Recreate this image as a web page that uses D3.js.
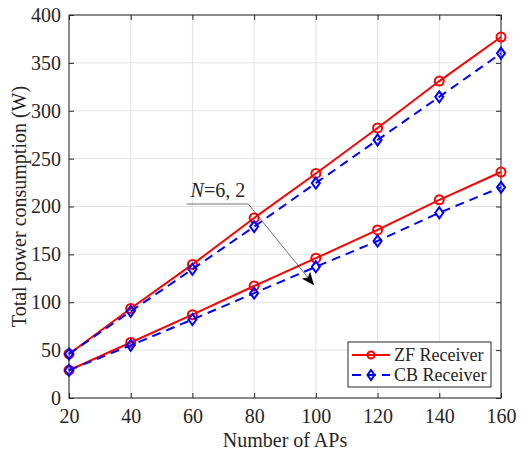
<!DOCTYPE html>
<html>
<head>
<meta charset="utf-8">
<script src="https://cdn.jsdelivr.net/npm/d3@7"></script>
<style>
  body { margin: 0; background: #fff; }
  text { font-family: "Liberation Serif", "Times New Roman", serif; fill: #262626; }
</style>
</head>
<body>
<div class="chart"></div>
<script>
const numAPs = [20, 40, 60, 80, 100, 120, 140, 160];
// N = 6
const zfN6 = [46, 93.5, 139.5, 188, 234.5, 282, 331, 377];
const cbN6 = [46, 90.5, 134.5, 179, 224.5, 269.5, 314.5, 360];
// N = 2
const zfN2 = [29, 58, 87, 117, 146, 175.5, 207, 236];
const cbN2 = [29, 55, 82, 109.5, 137, 164, 193.5, 220];
const xTicks = [20, 40, 60, 80, 100, 120, 140, 160];
const yTicks = [0, 50, 100, 150, 200, 250, 300, 350, 400];

const W = 528, H = 452;
const margin = {top: 15, right: 27, bottom: 54, left: 69},
width = W - margin.left - margin.right,
height = H - margin.top - margin.bottom;

const svg = d3.select(".chart").append("svg")
    .attr("width", W)
    .attr("height", H)
  .append("g")
    .attr("transform", "translate(" + margin.left + "," + margin.top + ")");

const x = d3.scaleLinear().domain([20, 160]).range([0, width]);
const y = d3.scaleLinear().domain([0, 400]).range([height, 0]);

// grid
svg.append("g").selectAll("line.gx")
  .data(xTicks).enter().append("line")
  .attr("x1", d => x(d)).attr("x2", d => x(d))
  .attr("y1", 0).attr("y2", height)
  .attr("stroke", "#e3e3e3").attr("stroke-width", 1);
svg.append("g").selectAll("line.gy")
  .data(yTicks).enter().append("line")
  .attr("y1", d => y(d)).attr("y2", d => y(d))
  .attr("x1", 0).attr("x2", width)
  .attr("stroke", "#e3e3e3").attr("stroke-width", 1);

// axes (ticks inward, box on)
function styleAxis(g) {
  g.select(".domain").remove();
  g.selectAll(".tick line").attr("stroke", "#262626");
  g.selectAll(".tick text")
    .style("font-family", '"Liberation Serif", "Times New Roman", serif')
    .style("font-size", "20px").attr("fill", "#262626");
}
svg.append("g").attr("transform", "translate(0," + height + ")")
  .call(d3.axisBottom(x).tickValues(xTicks).tickSize(-5).tickPadding(11).tickFormat(d3.format("d")))
  .call(styleAxis);
svg.append("g")
  .call(d3.axisTop(x).tickValues(xTicks).tickSize(-5).tickFormat(""))
  .call(styleAxis);
svg.append("g")
  .call(d3.axisLeft(y).tickValues(yTicks).tickSize(-5).tickPadding(8).tickFormat(d3.format("d")))
  .call(styleAxis);
svg.append("g").attr("transform", "translate(" + width + ",0)")
  .call(d3.axisRight(y).tickValues(yTicks).tickSize(-5).tickFormat(""))
  .call(styleAxis);
svg.append("rect")
  .attr("width", width).attr("height", height)
  .attr("fill", "none").attr("stroke", "#262626").attr("stroke-width", 1);

// series
const line = d3.line().x((d, i) => x(numAPs[i])).y(d => y(d));
const diamond = "M0,-5.5L4,0L0,5.5L-4,0Z";

function drawSeries(vals, color, dashed, marker) {
  svg.append("path").datum(vals)
    .attr("d", line)
    .attr("fill", "none")
    .attr("stroke", color)
    .attr("stroke-width", 2)
    .attr("stroke-dasharray", dashed ? "9,6" : null);
  const pts = svg.append("g").selectAll("g")
    .data(vals).enter().append("g")
    .attr("transform", (d, i) => "translate(" + x(numAPs[i]) + "," + y(d) + ")");
  if (marker == "circle") {
    pts.append("circle").attr("r", 4.5)
      .attr("fill", "none").attr("stroke", color).attr("stroke-width", 2);
  } else {
    pts.append("path").attr("d", diamond)
      .attr("fill", "none").attr("stroke", color).attr("stroke-width", 2);
  }
}
drawSeries(zfN6, "#ff0000", false, "circle");
drawSeries(zfN2, "#ff0000", false, "circle");
drawSeries(cbN6, "#0000ff", true, "diamond");
drawSeries(cbN2, "#0000ff", true, "diamond");

// annotation N=6, 2
const ann = svg.append("g");
ann.append("defs").append("marker")
  .attr("id", "arr")
  .attr("viewBox", "0 0 12 10")
  .attr("refX", 11).attr("refY", 5)
  .attr("markerWidth", 13).attr("markerHeight", 11)
  .attr("markerUnits", "userSpaceOnUse")
  .attr("orient", "auto")
  .append("path").attr("d", "M0,0L12,5L0,10L3,5Z").attr("fill", "#000");
ann.append("path")
  .attr("d", "M" + x(58.1) + "," + y(202.6) + "H" + x(78.1) + "L" + x(99.2) + "," + y(118.7))
  .attr("fill", "none").attr("stroke", "#333").attr("stroke-width", 0.7)
  .attr("marker-end", "url(#arr)");
const annText = ann.append("text")
  .attr("x", x(59.4)).attr("y", y(209.5))
  .style("font-size", "20px").attr("fill", "#000");
annText.append("tspan").style("font-style", "italic").text("N");
annText.append("tspan").text("=6, 2");

// axis titles
svg.append("text")
  .attr("x", width / 2).attr("y", height + 49)
  .attr("text-anchor", "middle").style("font-size", "20px")
  .text("Number of APs");
svg.append("text")
  .attr("transform", "translate(" + (-43) + "," + (height / 2) + ") rotate(-90)")
  .attr("text-anchor", "middle").style("font-size", "20px")
  .text("Total power consumption (W)");

// legend
const leg = svg.append("g").attr("transform", "translate(" + (348 - margin.left) + "," + (342 - margin.top) + ")");
leg.append("rect").attr("width", 143).attr("height", 45)
  .attr("fill", "#fff").attr("stroke", "#262626").attr("stroke-width", 1);
const legItems = [
  {name: "ZF Receiver", color: "#ff0000", dashed: false, marker: "circle"},
  {name: "CB Receiver", color: "#0000ff", dashed: true, marker: "diamond"}
];
legItems.forEach((it, i) => {
  const cy = 13 + i * 20;
  leg.append("line").attr("x1", 4).attr("x2", 42).attr("y1", cy).attr("y2", cy)
    .attr("stroke", it.color).attr("stroke-width", 2)
    .attr("stroke-dasharray", it.dashed ? "9,6" : null);
  if (it.marker == "circle") {
    leg.append("circle").attr("cx", 23).attr("cy", cy).attr("r", 3.5)
      .attr("fill", "none").attr("stroke", it.color).attr("stroke-width", 2);
  } else {
    leg.append("path").attr("d", "M0,-5L3.5,0L0,5L-3.5,0Z")
      .attr("transform", "translate(23," + cy + ")")
      .attr("fill", "none").attr("stroke", it.color).attr("stroke-width", 2);
  }
  leg.append("text").attr("x", 46).attr("y", cy + 6)
    .style("font-size", "18px").text(it.name);
});
</script>
</body>
</html>
